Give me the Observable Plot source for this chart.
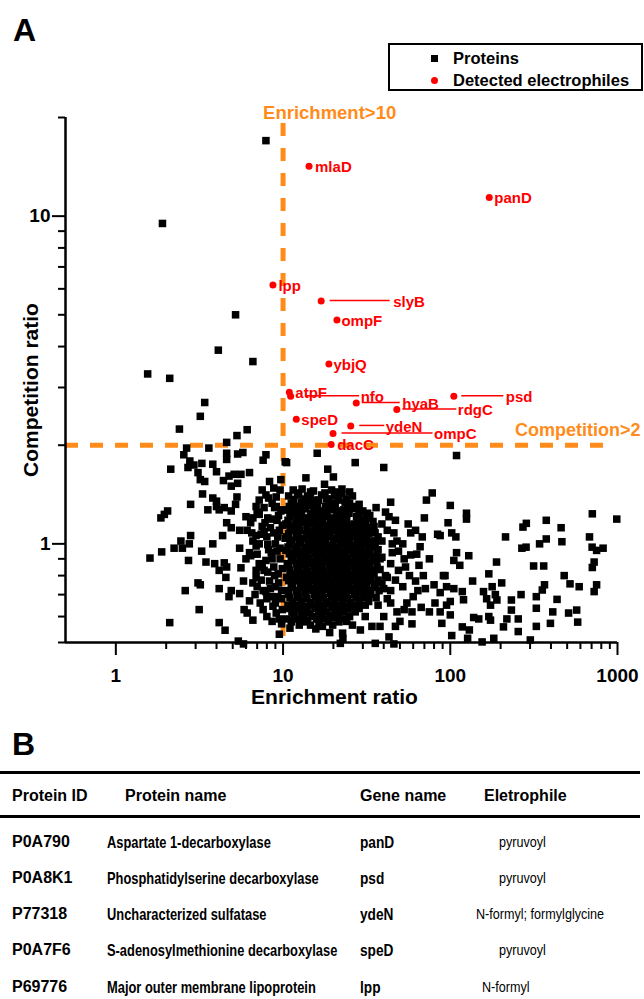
<!DOCTYPE html>
<html><head><meta charset="utf-8">
<script src="https://cdn.jsdelivr.net/npm/d3@7"></script>
<script src="https://cdn.jsdelivr.net/npm/@observablehq/plot@0.6"></script>
<style>
html,body{margin:0;padding:0;background:#fff;}
#fig{position:relative;width:644px;height:999px;overflow:hidden;font-family:"Liberation Sans",Arial,Helvetica,sans-serif;color:#000;}
#chart{position:absolute;left:0;top:0;}
.abs{position:absolute;white-space:nowrap;}
.panel{font-weight:bold;font-size:32px;line-height:32px;}
#legend{position:absolute;left:388px;top:43px;width:255px;height:48px;box-sizing:border-box;border:2px solid #000;background:#fff;}
.lg{position:absolute;font-weight:bold;font-size:16.5px;line-height:20px;white-space:nowrap;}
.rule{position:absolute;left:0;width:640px;height:2.5px;background:#000;}
.th{font-weight:bold;font-size:16px;line-height:20px;}
.tid{font-weight:bold;font-size:16px;line-height:20px;}
.td{font-weight:bold;font-size:16.5px;line-height:20px;transform:scaleX(0.78);transform-origin:0 50%;}
.tg{font-weight:bold;font-size:16.5px;line-height:20px;transform:scaleX(0.83);transform-origin:0 50%;}
.te{font-weight:normal;font-size:14px;line-height:20px;transform:scaleX(0.9);transform-origin:0 50%;}
</style></head>
<body><div id="fig"><div id="chart"></div></div>
<script>
// ---------------- data ----------------
const enrichThreshold = 10;
const compThreshold = 2;

const genes  = ["mlaD","panD","lpp","slyB","ompF","ybjQ","atpF","nfo","hyaB","rdgC","psd","speD","ydeN","ompC","dacC"];
const enrich = [14.3, 171, 8.7, 16.9, 21, 18.8, 10.9, 11.1, 27.4, 47.9, 105, 12.0, 25.4, 19.9, 19.4];
const compet = [14.2, 11.4, 6.16, 5.51, 4.82, 3.54, 2.90, 2.82, 2.69, 2.57, 2.82, 2.40, 2.29, 2.17, 2.01];

// proteins: [enrichment ratio, competition ratio]
const outlierProteins = [[7.9,17],[1.9,9.5],[5.2,5.0],[4.1,3.9],[6.6,3.6],[1.55,3.3],[2.1,3.2],[3.4,2.7],[3.2,2.45],[2.4,2.24],[6.1,2.23],[5.3,2.14],[4.6,2.04],[2.65,1.96],[3.6,1.96],[109,1.86]];

const leftProteins = [[2.55,1.87],[4.6,1.89],[4.6,1.81],[5.35,1.88],[5.75,1.9],[7.9,1.87],[7.6,1.8],[10.3,1.78],[2.13,1.69],[2.77,1.79],[2.93,1.74],[3.27,1.76],[2.7,1.71],[3.1,1.65],[3.2,1.57],[3.4,1.55],[3.8,1.75],[4.0,1.66],[4.4,1.56],[4.75,1.61],[4.9,1.5],[5.35,1.53],[5.6,1.63],[6.3,1.65],[5.1,1.63],[9.7,1.57],[7.5,1.46],[8.8,1.48],[7.9,1.41],[9.1,1.39],[3.3,1.42],[2.8,1.32],[5.3,1.39],[3.8,1.38],[4.0,1.35],[3.55,1.27],[4.15,1.27],[4.45,1.29],[4.9,1.26],[4.0,1.3],[5.2,1.32],[2.04,1.26],[1.95,1.23],[1.86,1.2],[6.9,1.3],[7.7,1.29],[7.2,1.23],[6.6,1.2],[6.0,1.21],[6.4,1.16],[8.1,1.2],[7.5,1.13],[9.7,1.26],[10,1.27],[9.2,1.18],[4.6,1.16],[4.9,1.12],[5.5,1.1],[4.35,1.06],[6.9,1.06],[7.7,1.09],[8.8,1.08],[10.3,1.04],[6.6,1.02],[2.8,1.06],[2.45,1.02],[2.75,1.0],[2.23,0.97],[2.5,0.97],[1.88,0.945],[1.6,0.905],[3.8,1.0],[3.26,0.95],[2.72,0.89],[3.46,0.88],[3.9,0.87],[4.45,0.875],[4.6,0.85],[4.15,0.83],[4.55,0.79],[5.6,0.845],[6.3,0.94],[6.4,0.92],[6.9,0.985],[8.1,0.995],[8.5,0.94],[9.2,0.95],[7.9,0.89],[7.2,0.87],[6.9,0.83],[7.7,0.83],[8.8,0.85],[9.35,0.81],[6.9,0.79],[6.6,0.76],[7.4,0.775],[7.9,0.715],[3.1,0.76],[3.2,0.75],[2.6,0.72],[4.15,0.73],[4.9,0.72],[5.5,0.705],[4.75,0.69],[9.8,0.72],[9.8,0.68],[8.7,0.645],[9.1,0.615],[3.15,0.63],[5.85,0.63],[6.1,0.615],[6.6,0.585],[2.1,0.575],[4.15,0.575],[4.5,0.545],[9.8,0.57],[9.5,0.59],[5.4,0.505],[5.8,0.495],[8.2,1.38],[8.6,1.33],[9.4,1.22],[8.4,1.12],[9.5,1.1],[9.0,1.0],[9.6,0.9],[8.3,0.77],[9.0,0.74],[8.5,0.69],[7.3,0.66],
[8.9,1.29],[9.9,1.14],[8.0,1.05],[9.3,1.05],[7.2,1.0],[8.6,0.9],[9.9,0.84],[8.1,0.82],[7.6,0.72],[9.3,0.69],[8.0,0.6],[9.9,0.63],[6.0,0.9],[5.5,0.97],[6.1,1.1],[5.8,0.77],[6.8,0.7],[7.2,1.36],[9.6,1.46],[8.3,1.55],
[7.0,1.25],[7.8,1.16],[8.6,1.19],[9.1,1.3],[6.5,1.08],[7.4,1.07],[8.2,0.96],[7.0,0.93],[9.6,0.97],[8.9,0.8],[7.5,0.85],[9.4,0.76],[8.4,0.73],[7.0,0.74],[9.0,0.66],[8.0,0.68],[6.3,0.67],[7.6,0.63],[8.6,0.58],[9.5,0.53]];

const coreProteins = [[16,1.89],[10.5,1.77],[27,1.77],[40,1.71],[18.5,1.69],[20,1.6],[13.7,1.59],[17.7,1.52],[14.5,1.39],[16.3,1.36],[18.7,1.37],[21.4,1.37],[23.5,1.34],[36,1.29],[21,1.26],[24,1.23],[34.5,1.17],[24.6,1.14],[35.6,1.02],[39,1.02],[36,0.89],[40,0.6],[34,0.56],[29,0.546],[24,0.58],[22.7,0.534],[22.8,0.515],[19,0.536],[15.7,0.55],[13.2,0.59],[11,0.553],[31,0.6],[22.5,1.47],[25,1.44],
[11.5,1.46],[13.0,1.47],[15.2,1.45],[19.5,1.46],
[10.8,1.40],[12.4,1.41],[14.0,1.40],[17.0,1.41],[20.3,1.40],[22.5,1.42],[26,1.40],
[11.2,1.33],[12.9,1.34],[14.6,1.33],[16.1,1.32],[19.6,1.33],[25,1.33],[28.5,1.32],
[10.6,1.27],[12.0,1.27],[13.6,1.28],[15.3,1.27],[17.2,1.26],[19.0,1.27],[23,1.27],[26.5,1.28],[30,1.26],
[11.0,1.21],[12.5,1.21],[14.2,1.20],[15.9,1.21],[17.8,1.21],[20.0,1.20],[22.0,1.21],[27.5,1.21],[31.5,1.20],[33,1.22],
[10.4,1.15],[11.8,1.15],[13.3,1.16],[14.9,1.15],[16.6,1.15],[18.6,1.14],[20.8,1.15],[22.6,1.16],[26.6,1.15],[29.5,1.14],[31,1.16],
[11.2,1.10],[12.6,1.10],[14.1,1.09],[15.7,1.10],[17.5,1.10],[19.5,1.10],[21.7,1.09],[24,1.10],[27.2,1.10],[30,1.09],[33.5,1.10],
[10.5,1.05],[12.0,1.05],[13.5,1.04],[15.0,1.05],[16.8,1.05],[18.8,1.05],[20.8,1.04],[23.2,1.05],[25.5,1.05],[28.5,1.04],[31.5,1.05],[37,1.05],
[11.0,1.00],[12.5,1.00],[14.2,0.99],[15.8,1.00],[17.6,1.00],[19.7,0.99],[22.0,1.00],[24.5,1.00],[27.0,0.99],[30.5,1.00],[34,1.00],
[10.4,0.955],[11.8,0.955],[13.3,0.95],[14.9,0.955],[16.6,0.955],[18.5,0.96],[20.7,0.955],[23.0,0.95],[25.8,0.955],[28.8,0.955],[32.5,0.95],[37,0.96],
[11.2,0.91],[12.6,0.91],[14.1,0.905],[15.8,0.91],[17.6,0.91],[19.6,0.915],[21.9,0.91],[24.4,0.905],[27.2,0.91],[30.5,0.91],[34.5,0.915],[39,0.91],
[10.6,0.87],[12.0,0.87],[13.4,0.865],[15.0,0.87],[16.8,0.87],[18.8,0.875],[21.0,0.87],[23.3,0.865],[26.0,0.87],[29.0,0.87],[32.5,0.87],
[11.0,0.83],[12.4,0.83],[14.0,0.825],[15.6,0.83],[17.4,0.83],[19.4,0.835],[21.7,0.83],[24.2,0.825],[27.0,0.83],[30.3,0.83],[34,0.83],[38,0.835],
[10.5,0.79],[11.8,0.79],[13.3,0.785],[14.9,0.79],[16.6,0.79],[18.5,0.795],[20.6,0.79],[23.0,0.785],[25.7,0.79],[28.7,0.79],[32,0.79],[42,0.79],
[11.2,0.755],[12.7,0.755],[14.2,0.75],[15.9,0.755],[17.7,0.755],[19.8,0.76],[22.1,0.755],[24.7,0.75],[27.6,0.755],[31,0.755],[35,0.755],[39,0.76],
[10.6,0.72],[12.0,0.72],[13.5,0.715],[15.1,0.72],[16.9,0.72],[18.9,0.725],[21.1,0.72],[23.6,0.715],[26.3,0.72],[29.5,0.72],[33,0.72],[37.5,0.72],
[11.0,0.685],[12.4,0.685],[13.9,0.68],[15.6,0.685],[17.4,0.685],[19.5,0.69],[21.8,0.685],[24.4,0.68],[27.3,0.685],[30.5,0.685],[36,0.685],
[10.7,0.65],[12.0,0.65],[13.5,0.645],[15.2,0.65],[17.0,0.65],[19.0,0.655],[21.3,0.65],[23.8,0.645],[26.6,0.65],[31,0.65],
[11.3,0.62],[12.8,0.62],[14.5,0.615],[16.3,0.62],[18.2,0.62],[20.4,0.625],[22.8,0.62],[27,0.62],
[10.5,0.59],[12.1,0.59],[14.0,0.585],[15.9,0.59],[17.7,0.59],[20.0,0.595],[23.5,0.59],
[12.5,0.565],[14.6,0.565],[17.2,0.56],[19.8,0.565],[26,0.565],
[12.2,1.43],[14.6,1.44],[17.8,1.43],[21,1.44],
[11.6,1.365],[13.4,1.37],[15.3,1.36],[18.2,1.37],[21.5,1.36],[24,1.37],
[10.9,1.30],[12.4,1.30],[14.0,1.31],[15.8,1.30],[18.0,1.30],[20.5,1.30],[24.5,1.30],[27.5,1.30],
[11.4,1.24],[12.9,1.24],[14.6,1.24],[16.4,1.24],[18.3,1.24],[21,1.245],[24.8,1.24],[28.5,1.24],[32,1.24],
[10.7,1.18],[12.1,1.18],[13.7,1.18],[15.4,1.18],[17.2,1.18],[19.2,1.185],[21.4,1.18],[24,1.18],[28,1.18],[30.5,1.18],
[11.0,1.125],[12.4,1.125],[13.9,1.12],[15.5,1.125],[17.2,1.125],[19.1,1.13],[21.2,1.125],[23.4,1.12],[26,1.125],[28.8,1.125],[32,1.12],[35,1.13],
[10.8,1.075],[12.3,1.075],[13.8,1.07],[15.4,1.075],[17.1,1.075],[19.1,1.08],[21.3,1.075],[23.7,1.07],[26.3,1.075],[29.2,1.075],[32.5,1.075],[35.5,1.08],
[11.3,1.025],[12.8,1.025],[14.4,1.02],[16.1,1.025],[18.0,1.025],[20.1,1.03],[22.4,1.025],[25,1.02],[27.8,1.025],[31,1.025],[33.5,1.02],
[10.7,0.978],[12.1,0.978],[13.6,0.975],[15.2,0.978],[17.0,0.978],[19.0,0.98],[21.3,0.978],[23.8,0.975],[26.5,0.978],[29.5,0.978],[33,0.975],[35.5,0.98],
[10.9,0.932],[12.3,0.932],[13.8,0.93],[15.4,0.932],[17.2,0.932],[19.1,0.935],[21.3,0.932],[23.7,0.93],[26.4,0.932],[29.5,0.932],[33,0.93],[36.5,0.935],
[11.4,0.89],[12.9,0.89],[14.5,0.885],[16.2,0.89],[18.1,0.89],[20.2,0.895],[22.5,0.89],[25,0.885],[27.8,0.89],[31,0.89],[34.5,0.89],
[10.8,0.85],[12.2,0.85],[13.7,0.845],[15.3,0.85],[17.1,0.85],[19.1,0.855],[21.3,0.85],[23.8,0.845],[26.5,0.85],[29.6,0.85],[33,0.85],[36.5,0.85],
[11.3,0.81],[12.7,0.81],[14.3,0.805],[16.0,0.81],[17.9,0.81],[20.0,0.815],[22.3,0.81],[24.9,0.805],[27.8,0.81],[31,0.81],[35,0.81],
[10.8,0.772],[12.2,0.772],[13.7,0.768],[15.3,0.772],[17.1,0.772],[19.1,0.775],[21.4,0.772],[23.9,0.768],[26.7,0.772],[29.8,0.772],[33.5,0.772],[37,0.775],
[11.4,0.737],[12.9,0.737],[14.5,0.733],[16.2,0.737],[18.1,0.737],[20.3,0.74],[22.7,0.737],[25.3,0.733],[28.3,0.737],[31.5,0.737],[35.5,0.737],
[10.8,0.702],[12.2,0.702],[13.7,0.698],[15.4,0.702],[17.2,0.702],[19.2,0.705],[21.5,0.702],[24,0.698],[26.8,0.702],[30,0.702],[33.5,0.702],
[11.4,0.667],[12.9,0.667],[14.6,0.663],[16.3,0.667],[18.2,0.667],[20.3,0.67],[22.7,0.667],[25.3,0.663],[28.5,0.667],[32.5,0.667],
[10.9,0.635],[12.4,0.635],[13.9,0.632],[15.6,0.635],[17.5,0.635],[19.6,0.638],[21.9,0.635],[24.5,0.632],[28.5,0.635],
[11.6,0.605],[13.2,0.605],[15.0,0.6],[17.0,0.605],[19.2,0.605],[21.5,0.605],[25,0.6],
[11.2,0.578],[13.4,0.578],[16.4,0.575],[18.6,0.578],[21.6,0.578]];

const rightProteins = [[78,1.43],[72,1.36],[44,1.34],[43,1.21],[58,1.08],[46,1.08],[84,1.07],[68,1.05],[66,0.98],[58,0.925],[49,0.95],[45,0.94],[44,0.87],[54,0.85],[69,0.8],[91,0.8],[47,0.775],[87,0.71],[71,0.73],[60,0.69],[59,0.62],[81,0.66],[87,0.62],[48,0.62],[59,0.57],[47,0.56],
[100,1.31],[125,1.24],[125,1.19],[97,1.16],[102,1.08],[108,1.05],[87,1.06],[109,0.94],[129,0.92],[105,0.89],[114,0.86],[189,0.88],[214,1.05],[93,0.8],[136,0.77],[170,0.81],[203,0.76],[95,0.74],[105,0.73],[118,0.715],[120,0.675],[100,0.667],[95,0.65],[100,0.607],[89,0.572],[118,0.558],[130,0.546],[138,0.596],[148,0.59],[170,0.6],[174,0.585],[158,0.715],[178,0.74],[186,0.7],[165,0.68],[174,0.65],[190,0.674],[232,0.674],[232,0.628],[218,0.59],[208,0.558],[255,0.59],[255,0.54],[265,0.7],[285,1.155],[272,1.125],[375,1.18],[268,0.97],[284,0.977],[342,1.0],[375,1.035],[460,1.12],[465,1.015],[315,0.856],[362,0.856],[480,0.8],[520,0.755],[590,0.74],[366,0.75],[355,0.723],[327,0.69],[435,0.677],[327,0.636],[410,0.62],[397,0.572],[510,0.615],[570,0.628],[578,0.577],[327,0.56],[301,0.509],[182,0.515],[155,0.502],[707,1.235],[990,1.19],[680,1.05],[705,0.977],[750,0.955],[820,0.97],[725,0.88],[707,0.847],[750,0.75],[725,0.715],[102,0.525],[127,0.515],[35.6,0.497],[46,0.495],[22,0.497],
[38,0.9],[41,0.8],[44,0.72],[52,0.74],[55,0.66],[50,0.58],[42,0.68],[37,0.65],[62,0.77],[65,0.86],[52,1.0],[56,1.15],[63,0.93],[75,0.9],[80,0.75],[42,1.1],[48,1.02],[39,1.15],
[41,1.25],[47,1.18],[53,0.9],[57,0.8],[64,0.72],[44,0.66],[53,0.63],[67,0.64],[75,0.62],[49,0.83],[62,1.1],[70,1.2],[40,0.73],[45,1.0],[38,0.56],[43,0.52]];

const xTicksMajor = [1, 10, 100, 1000];
const xTicksMinor = [2,3,4,5,6,7,8,9,20,30,40,50,60,70,80,90,200,300,400,500,600,700,800,900];
const yTicksMajor = [1, 10];
const yTicksMinor = [0.5,0.6,0.7,0.8,0.9,2,3,4,5,6,7,8,9,20];

const tableHeaders = ["Protein ID","Protein name","Gene name","Eletrophile"];
const tableIds = ["P0A790","P0A8K1","P77318","P0A7F6","P69776"];
const tableNames = ["Aspartate 1-decarboxylase","Phosphatidylserine decarboxylase","Uncharacterized sulfatase","S-adenosylmethionine decarboxylase","Major outer membrane lipoprotein"];
const tableGenes = ["panD","psd","ydeN","speD","lpp"];
const tableElectrophiles = ["pyruvoyl","pyruvoyl","N-formyl; formylglycine","pyruvoyl","N-formyl"];

// ---------------- layout / style ----------------
const orange = "#FF8C1A";
const red = "#FF0000";
const labelDx = {mlaD:6, panD:5, lpp:5.5, slyB:72, ompF:4.5, ybjQ:4.5, atpF:6, nfo:70, hyaB:46, rdgC:61, psd:52, speD:5, ydeN:35, ompC:101, dacC:6};
const connectors = {slyB:[9,69], nfo:[16,69], hyaB:[6,44], rdgC:[6,60], psd:[8,50], ydeN:[9,34], ompC:[9,100]};

const proteins = [...outlierProteins, ...leftProteins, ...coreProteins, ...rightProteins].map(([x, y]) => ({x, y}));
const hits = genes.map((g, i) => ({gene: g, x: enrich[i], y: compet[i]}));

const labelMarks = hits.map(h => Plot.text([h], {
  x: "x", y: "y", text: "gene", dx: labelDx[h.gene], dy: 1,
  textAnchor: "start", lineAnchor: "middle", fill: red, fontSize: 15, fontWeight: "bold"
}));

const plot = Plot.plot({
  width: 644, height: 720,
  marginLeft: 65, marginRight: 27, marginTop: 117, marginBottom: 78,
  x: {type: "log", domain: [0.5, 1000]},
  y: {type: "log", domain: [0.5, 20]},
  style: {fontFamily: "'Liberation Sans', Arial, sans-serif", fontWeight: "bold", color: "#000", background: "transparent", overflow: "visible"},
  marks: [
    Plot.ruleX([enrichThreshold], {stroke: orange, strokeWidth: 5, strokeDasharray: "13,12", insetTop: 6}),
    Plot.ruleY([compThreshold], {stroke: orange, strokeWidth: 5, strokeDasharray: "13,12", insetRight: 8}),
    Plot.text([enrichThreshold], {x: d => d, frameAnchor: "top", text: () => "Enrichment>10", dx: -20, dy: -4.5, textAnchor: "start", lineAnchor: "middle", fill: orange, fontSize: 18.5, fontWeight: "bold"}),
    Plot.text([compThreshold], {y: d => d, frameAnchor: "right", text: () => "Competition>2", dx: 23, dy: -14.5, textAnchor: "end", lineAnchor: "middle", fill: orange, fontSize: 18, fontWeight: "bold"}),
    Plot.dot(proteins, {x: "x", y: "y", symbol: "square", r: 4.25, fill: "#000"}),
    Plot.ruleX([0.5], {strokeWidth: 2.5}),
    Plot.ruleY([0.5], {strokeWidth: 2.5}),
    Plot.axisX(xTicksMajor, {anchor: "bottom", tickSize: 13, tickPadding: 13, strokeWidth: 2, tickFormat: d => String(d), fontSize: 19, fontWeight: "bold", label: null}),
    Plot.axisX(xTicksMinor, {anchor: "bottom", tickSize: 7, strokeWidth: 2, tickFormat: () => "", label: null}),
    Plot.axisY(yTicksMajor, {anchor: "left", tickSize: 13, tickPadding: 2, strokeWidth: 2, tickFormat: d => String(d), fontSize: 19, fontWeight: "bold", label: null}),
    Plot.axisY(yTicksMinor, {anchor: "left", tickSize: 7, strokeWidth: 2, tickFormat: () => "", label: null}),
    Plot.text(["Enrichment ratio"], {text: d => d, frameAnchor: "bottom", textAnchor: "middle", lineAnchor: "middle", dx: -7, dy: 55, fontSize: 21, fontWeight: "bold"}),
    Plot.text(["Competition ratio"], {text: d => d, frameAnchor: "left", textAnchor: "middle", lineAnchor: "middle", rotate: -90, dx: -34, dy: 10, fontSize: 21, fontWeight: "bold"}),
    Plot.dot(hits, {x: "x", y: "y", r: 3.5, fill: red}),
    ...labelMarks
  ]
});

// leader lines from detected electrophiles to their labels, placed with the plot's scales
const sx = plot.scale("x"), sy = plot.scale("y");
const lg = d3.select(plot).append("g").attr("stroke", red).attr("stroke-width", 1.5);
hits.forEach(h => {
  const c = connectors[h.gene];
  if (!c) return;
  const px = sx.apply(h.x), py = sy.apply(h.y);
  lg.append("line").attr("x1", px + c[0]).attr("x2", px + c[1]).attr("y1", py).attr("y2", py);
});
document.getElementById("chart").appendChild(plot);

// ---------------- overlays: panel letters, legend, table ----------------
const fig = document.getElementById("fig");
function addDiv(cls, text, left, top) {
  const d = document.createElement("div");
  d.className = "abs " + cls;
  d.textContent = text;
  d.style.left = left + "px";
  d.style.top = top + "px";
  fig.appendChild(d);
  return d;
}
addDiv("panel", "A", 13, 14);

const legend = document.createElement("div");
legend.id = "legend";
legend.innerHTML = '<div style="position:absolute;left:40.5px;top:9.5px;width:7.5px;height:7.5px;background:#000"></div>' +
  '<div class="lg" style="left:63px;top:3px">Proteins</div>' +
  '<div style="position:absolute;left:40.5px;top:31.5px;width:7px;height:7px;border-radius:50%;background:' + red + '"></div>' +
  '<div class="lg" style="left:63px;top:25px">Detected electrophiles</div>';
fig.appendChild(legend);

addDiv("panel", "B", 12, 728);
const r1 = document.createElement("div"); r1.className = "rule"; r1.style.top = "771px"; fig.appendChild(r1);
const r2 = document.createElement("div"); r2.className = "rule"; r2.style.top = "815px"; fig.appendChild(r2);

const headerX = [12, 125, 360, 484];
tableHeaders.forEach((h, i) => addDiv("th", h, headerX[i], 786));
const rowY = [832, 868, 904, 940, 977];
const elecX = [499, 499, 476, 499, 482];
tableIds.forEach((id, i) => {
  addDiv("tid", id, 12, rowY[i]);
  addDiv("td", tableNames[i], 107, rowY[i]);
  addDiv("tg", tableGenes[i], 360, rowY[i]);
  addDiv("te", tableElectrophiles[i], elecX[i], rowY[i]);
});
</script>
</body></html>
